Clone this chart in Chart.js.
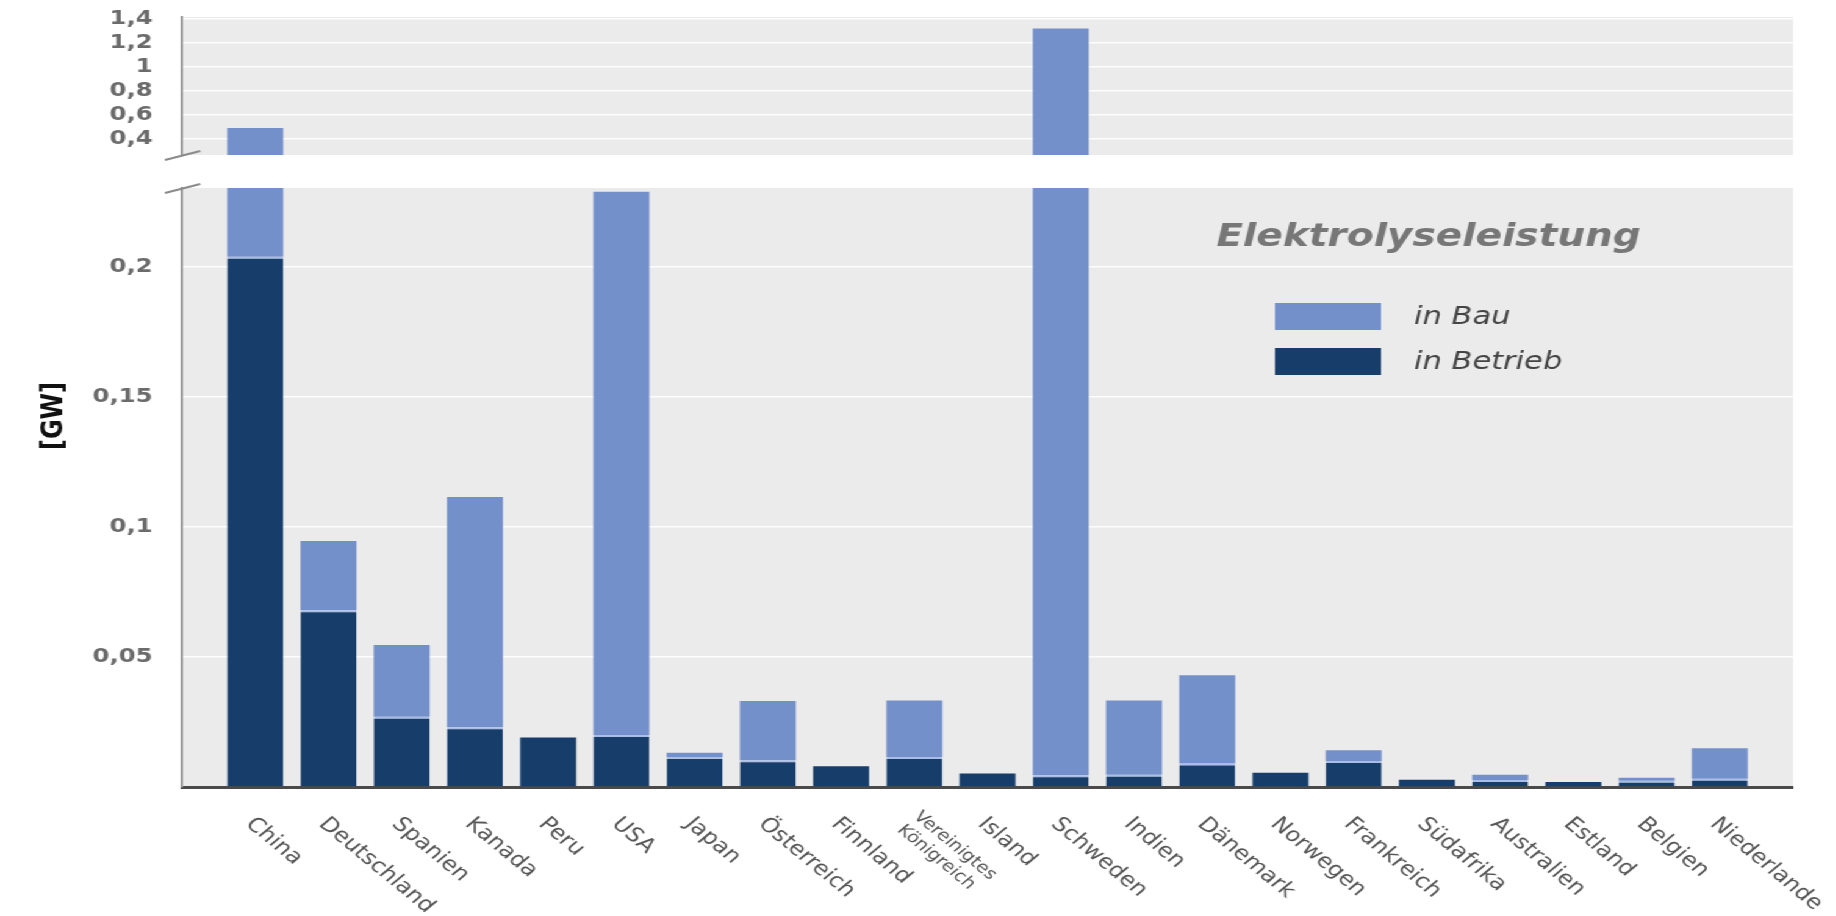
<!DOCTYPE html>
<html lang="de">
<head>
<meta charset="utf-8">
<title>Elektrolyseleistung</title>
<script src="https://cdn.jsdelivr.net/npm/chart.js@4.4.1/dist/chart.umd.min.js"></script>
<style>
  html, body { margin: 0; padding: 0; background: #fff; overflow: hidden; }
  /* the source picture is stretched sideways, so the whole stage is too */
  #stage { position: absolute; left: 0; top: 0; width: 1505px; height: 916px; transform: scaleX(1.22); transform-origin: 0 0; }
  .layer { position: absolute; left: 0; top: 0; width: 1505px; height: 916px; }
</style>
</head>
<body>
<div id="stage">
  <div class="layer"><canvas id="upperChart"></canvas></div>
  <div class="layer"><canvas id="lowerChart"></canvas></div>
</div>
<script>
const countries = [
  "China", "Deutschland", "Spanien", "Kanada", "Peru", "USA", "Japan",
  "Österreich", "Finnland", ["Vereinigtes", "Königreich"], "Island", "Schweden",
  "Indien", "Dänemark", "Norwegen", "Frankreich", "Südafrika", "Australien",
  "Estland", "Belgien", "Niederlande"
];

// GW
const inBetrieb = [
  0.204, 0.068, 0.027, 0.023, 0.019, 0.020, 0.0115,
  0.0103, 0.008, 0.0115, 0.0052, 0.0045,
  0.0047, 0.009, 0.0055, 0.010, 0.0028, 0.0027,
  0.0019, 0.0024, 0.0032
];
const inBau = [
  0.287, 0.0266, 0.0276, 0.0885, 0, 0.209, 0.0017,
  0.0228, 0, 0.0218, 0, 1.3125,
  0.0286, 0.034, 0, 0.0041, 0, 0.002,
  0, 0.0012, 0.0117
];

const upperTicks = [0.4, 0.6, 0.8, 1, 1.2, 1.4];
const lowerTicks = [0, 0.05, 0.1, 0.15, 0.2];

const STAGE_W = 1505;
const AXIS_X = 149.2;
const RIGHT_PAD = STAGE_W - 1469.7;

Chart.defaults.font.family = "DejaVu Sans";
Chart.defaults.animation = false;

// empty slot at each end, like the original axis
const pad = arr => [null, ...arr, null];
const labels = ["", ...countries, ""];

const fmt = v => v === 0 ? "" : String(+v.toFixed(2)).replace(".", ",");

function yAxis(min, max, ticks) {
  return {
    min, max,
    afterFit: s => {
      s.width = AXIS_X;
      s.paddingTop = 0;
      s.paddingBottom = 0;
    },
    afterBuildTicks: s => { s.ticks = ticks.map(v => ({ value: v })); },
    ticks: {
      padding: 24,
      color: "#6b6b6b",
      font: { weight: "bold", size: 20 },
      callback: v => fmt(v)
    },
    grid: { color: "rgba(255,255,255,0.9)", lineWidth: 1.5, drawTicks: false },
    border: { display: true, color: "#9a9a9a", width: 2 }
  };
}

function makeDatasets() {
  return [
    {
      label: "in Betrieb",
      data: pad(inBetrieb),
      backgroundColor: "#173d6b",
      borderColor: "#a9bde6",
      borderWidth: ctx => ({ top: (inBau[ctx.dataIndex - 1] || 0) > 0 ? 2 : 0, left: 0, right: 0, bottom: 0 }),
      clip: 0
    },
    {
      label: "in Bau",
      data: pad(inBau),
      backgroundColor: "#7490cb",
      clip: 0
    }
  ];
}

const plotBackground = {
  id: "plotBackground",
  beforeDraw(chart) {
    const { ctx, chartArea: a } = chart;
    ctx.save();
    ctx.fillStyle = "#ebebeb";
    ctx.fillRect(a.left, a.top, a.right - a.left, a.bottom - a.top);
    ctx.restore();
  }
};

function breakMark(atBottom) {
  return {
    id: "breakMark",
    afterDraw(chart) {
      const { ctx, chartArea: a } = chart;
      const y = atBottom ? a.bottom : a.top;
      ctx.save();
      ctx.strokeStyle = "#8a8a8a";
      ctx.lineWidth = 2;
      ctx.beginPath();
      ctx.moveTo(a.left - 14, y + 5);
      ctx.lineTo(a.left + 15, y - 4);
      ctx.stroke();
      ctx.restore();
    }
  };
}

const countryLabels = {
  id: "countryLabels",
  afterDraw(chart) {
    const { ctx, chartArea } = chart;
    const x = chart.scales.x;
    ctx.save();
    ctx.fillStyle = "#555";
    ctx.textAlign = "left";
    ctx.textBaseline = "middle";
    countries.forEach((name, i) => {
      const lines = Array.isArray(name) ? name : [name];
      const px = x.getPixelForValue(i + 1);
      ctx.save();
      ctx.translate(px - 5, chartArea.bottom + 34);
      ctx.rotate(Math.PI / 4);
      ctx.font = (lines.length > 1 ? "16px" : "20px") + " DejaVu Sans";
      lines.forEach((line, k) => ctx.fillText(line, 0, (k - (lines.length - 1) / 2) * 19));
      ctx.restore();
    });
    ctx.restore();
  }
};

const axisTitle = {
  id: "axisTitle",
  afterDraw(chart) {
    const { ctx } = chart;
    ctx.save();
    ctx.translate(45, 416);
    ctx.rotate(-Math.PI / 2);
    ctx.textAlign = "center";
    ctx.textBaseline = "middle";
    ctx.font = "bold 24px DejaVu Sans";
    ctx.fillStyle = "#111";
    ctx.fillText("[GW]", 0, 0);
    ctx.restore();
  }
};

const legendBox = {
  id: "legendBox",
  afterDraw(chart) {
    const { ctx } = chart;
    ctx.save();
    ctx.textBaseline = "middle";
    ctx.font = "italic bold 32px DejaVu Sans";
    ctx.fillStyle = "#777";
    ctx.fillText("Elektrolyseleistung", 997, 238);
    const items = [chart.data.datasets[1], chart.data.datasets[0]];
    items.forEach((ds, k) => {
      const y = 303 + k * 45;
      ctx.fillStyle = ds.backgroundColor;
      ctx.fillRect(1045, y, 87, 27);
      ctx.fillStyle = "#444";
      ctx.font = "italic 25px DejaVu Sans";
      ctx.fillText(ds.label, 1159, y + 14);
    });
    ctx.restore();
  }
};

const barOptions = { categoryPercentage: 1, barPercentage: 0.765 };

new Chart(document.getElementById("upperChart"), {
  type: "bar",
  data: { labels, datasets: makeDatasets() },
  options: {
    responsive: true,
    maintainAspectRatio: false,
    layout: { padding: { top: 17, bottom: 916 - 155, left: 0, right: RIGHT_PAD } },
    datasets: { bar: barOptions },
    plugins: { legend: { display: false }, tooltip: { enabled: false } },
    scales: {
      x: { display: false, stacked: true, offset: false },
      y: { ...yAxis(0.267, 1.412, upperTicks), stacked: true }
    }
  },
  plugins: [plotBackground, breakMark(true)]
});

new Chart(document.getElementById("lowerChart"), {
  type: "bar",
  data: { labels, datasets: makeDatasets() },
  options: {
    responsive: true,
    maintainAspectRatio: false,
    layout: { padding: { top: 188, bottom: 916 - 787, left: 0, right: RIGHT_PAD } },
    datasets: { bar: barOptions },
    plugins: { legend: { display: false }, tooltip: { enabled: false } },
    scales: {
      x: {
        stacked: true,
        offset: false,
        afterFit: s => { s.height = 0; },
        ticks: { display: false },
        grid: { display: false },
        border: { display: true, color: "#4a4a4a", width: 3 }
      },
      y: { ...yAxis(0, 0.2304, lowerTicks), stacked: true }
    }
  },
  plugins: [plotBackground, breakMark(false), countryLabels, axisTitle, legendBox]
});
</script>
</body>
</html>
